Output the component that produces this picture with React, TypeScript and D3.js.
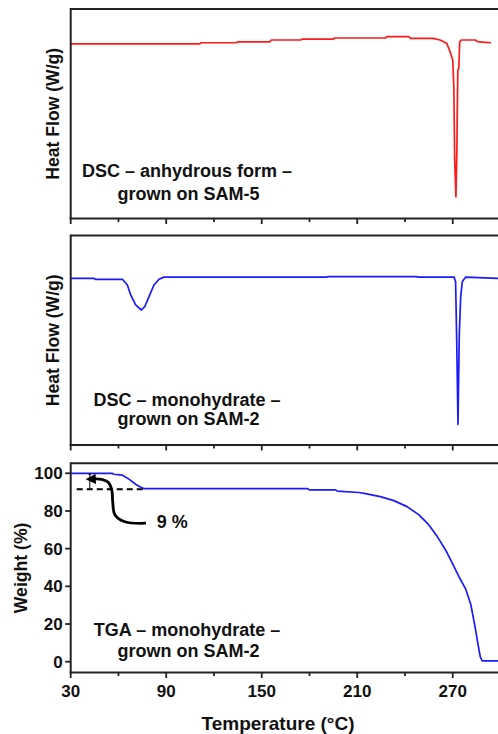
import React from "react";
import * as d3 from "d3";

// ---- Data ----
const dscAnhTemps = [30, 111, 112, 134, 135, 155, 156, 174.5, 175.5, 195, 196, 227.7, 228.7, 242.5, 243.5, 257.6, 262, 266.2, 268.3, 270, 270.7, 271.2, 272, 272.6, 272.8, 273.2, 273.8, 274.4, 275.3, 284.2, 285.6, 290.4, 294];
const dscAnhFlow = [0, 0, 0.017, 0.017, 0.03, 0.03, 0.056, 0.056, 0.07, 0.07, 0.085, 0.085, 0.103, 0.103, 0.08, 0.08, 0.056, 0.009, -0.111, -0.23, -0.636, -1.662, -2.192, -1.519, -1.09, -0.374, -0.349, 0.032, 0.056, 0.056, 0.032, 0.023, 0.017];

const dscMonoTemps = [30, 44.6, 45.5, 62.5, 65.6, 67.7, 70.8, 74.4, 76.5, 79.2, 82.3, 85.5, 88.6, 190, 192.3, 246.7, 248.8, 270.8, 271.8, 272.5, 273.3, 274.1, 275, 276, 278, 299];
const dscMonoFlow = [-0.013, -0.013, -0.027, -0.027, -0.109, -0.252, -0.395, -0.467, -0.42, -0.276, -0.109, -0.027, 0.004, 0.004, 0.01, 0.01, 0.004, 0.004, -0.062, -0.921, -2.104, -0.825, -0.276, -0.062, 0.004, -0.013];

const tgaTemps = [30, 56, 57, 62.5, 66.6, 70.8, 74, 76, 178.7, 180, 196.4, 197.5, 211, 216, 224.5, 233, 241.3, 248.8, 255, 260.3, 265.5, 269.7, 273.9, 278, 281.3, 284, 285.6, 287.3, 288.5, 300];
const tgaWeight = [100, 100, 99.5, 99, 96.9, 94.2, 92.6, 91.9, 91.9, 91.2, 91.2, 90.5, 89.8, 89.1, 87.6, 85.5, 82.3, 77.9, 72.6, 66.4, 59.3, 52.3, 45.1, 38.8, 30.5, 18.6, 10.5, 2.5, 0.4, 0.4];

const xTicks = [30, 60, 90, 120, 150, 180, 210, 240, 270, 300];
const xTickLabels = [30, 90, 150, 210, 270];
const yTicksTGA = [0, 20, 40, 60, 80, 100];

// annotation (in data units of TGA panel)
const lossLevel = 91.5;
const lossTemps = [33.8, 75.6];
const bracketTemp = 42;
const bracketTop = 99.6;
const arrowTemps = [77.3, 64.1, 57.8, 56.4, 55.8, 53.6, 49.5, 44.5];
const arrowWeights = [73.5, 74.3, 77.9, 84.9, 91.1, 95.2, 96.8, 97];
const lossLabel = "9 %";

const W = 498;
const H = 734;
const FONT = "'Liberation Sans', Arial, Helvetica, sans-serif";
const AX = "#222";

const x = d3.scaleLinear().domain([30, 300]).range([70.7, 500.5]);

const panels = [
  { top: 9, bottom: 218.5, domain: [-2.5, 0.5], temps: dscAnhTemps, vals: dscAnhFlow, color: "#ff1a1a",
    ylabel: "Heat Flow (W/g)", lines: ["DSC – anhydrous form –", "grown on SAM-5"], lineY: [176.5, 199.5] },
  { top: 235.5, bottom: 445, domain: [-2.4, 0.6], temps: dscMonoTemps, vals: dscMonoFlow, color: "#1a1aff",
    ylabel: "Heat Flow (W/g)", lines: ["DSC – monohydrate –", "grown on SAM-2"], lineY: [405.5, 425] },
  { top: 463.3, bottom: 672.5, domain: [-5.73, 105.3], temps: tgaTemps, vals: tgaWeight, color: "#1a1aff",
    ylabel: "Weight (%)", lines: ["TGA – monohydrate –", "grown on SAM-2"], lineY: [636, 657.3] },
];

export default function App() {
  const x0 = x.range()[0];
  const x1 = x.range()[1];
  return (
    <svg width={W} height={H} style={{ position: "absolute", left: 0, top: 0, background: "#fff" }}
      fontFamily={FONT} fontWeight="bold">
      <defs>
        {panels.map((p, i) => (
          <clipPath id={`clip${i}`} key={i}>
            <rect x={x0} y={p.top} width={x1 - x0} height={p.bottom - p.top} />
          </clipPath>
        ))}
        <marker id="ah" viewBox="0 0 10 10" refX="2" refY="5" markerWidth="3.6" markerHeight="3.6"
          orient="auto" markerUnits="strokeWidth">
          <path d="M0,0 L10,5 L0,10 z" fill="#000" />
        </marker>
      </defs>
      {panels.map((p, i) => {
        const y = d3.scaleLinear().domain(p.domain).range([p.bottom, p.top]);
        const line = d3.line<number>().x((_, k) => x(p.temps[k])).y((v) => y(v));
        const isTGA = i === 2;
        const cy = (p.top + p.bottom) / 2;
        return (
          <g key={i}>
            {/* data */}
            <path d={line(p.vals) || ""} fill="none" stroke={p.color} strokeWidth={1.7}
              strokeLinejoin="round" clipPath={`url(#clip${i})`} />
            {/* frame */}
            <line x1={x0} x2={x1} y1={p.top} y2={p.top} stroke={AX} strokeWidth={2} />
            <line x1={x0} x2={x0} y1={p.top - 1} y2={p.bottom + 1} stroke={AX} strokeWidth={2} />
            <line x1={x0 - 1} x2={x1} y1={p.bottom} y2={p.bottom} stroke={AX} strokeWidth={2} />
            {/* x ticks */}
            {xTicks.map((t) => {
              const major = xTickLabels.includes(t);
              return (
                <line key={t} x1={x(t)} x2={x(t)} y1={p.bottom} y2={p.bottom + (major ? 5.5 : 3.5)}
                  stroke={AX} strokeWidth={1.8} />
              );
            })}
            {/* y ticks for TGA */}
            {isTGA && yTicksTGA.map((t) => (
              <g key={t}>
                <line x1={x0 - 5.5} x2={x0} y1={y(t)} y2={y(t)} stroke={AX} strokeWidth={1.8} />
                <text x={x0 - 8} y={y(t)} dy="0.36em" textAnchor="end" fontSize={17} fill="#111">{t}</text>
              </g>
            ))}
            {isTGA && xTickLabels.map((t) => (
              <text key={t} x={x(t)} y={697} textAnchor="middle" fontSize={17} fill="#111">{t}</text>
            ))}
            {/* y label */}
            <text transform={`translate(${isTGA ? 27 : 58.5},${cy}) rotate(-90)`} textAnchor="middle"
              fontSize={17.6} fill="#111">{p.ylabel}</text>
            {/* panel caption */}
            {p.lines.map((s, k) => (
              <text key={k} x={k === 0 ? 187 : 188.5} y={p.lineY[k]} textAnchor="middle" fontSize={18} fill="#111">{s}</text>
            ))}
            {isTGA && (
              <g>
                <line x1={x(lossTemps[0])} x2={x(lossTemps[1])} y1={y(lossLevel)} y2={y(lossLevel)}
                  stroke="#000" strokeWidth={2} strokeDasharray="6,4" />
                <line x1={x(bracketTemp)} x2={x(bracketTemp)} y1={y(bracketTop)} y2={y(lossLevel)}
                  stroke="#000" strokeWidth={1} />
                <line x1={x(bracketTemp) - 1.5} x2={x(bracketTemp) + 1.5} y1={y(bracketTop)} y2={y(bracketTop)}
                  stroke="#000" strokeWidth={1} />
                <path d={d3.line<number>().x((_, k) => x(arrowTemps[k])).y((v) => y(v)).curve(d3.curveCatmullRom)(arrowWeights) || ""}
                  fill="none" stroke="#000" strokeWidth={2.8} markerEnd="url(#ah)" />
                <text x={x(84)} y={y(70.8)} fontSize={18} fill="#111">{lossLabel}</text>
              </g>
            )}
          </g>
        );
      })}
      <text x={278} y={730} textAnchor="middle" fontSize={19} fill="#111">Temperature (°C)</text>
    </svg>
  );
}
